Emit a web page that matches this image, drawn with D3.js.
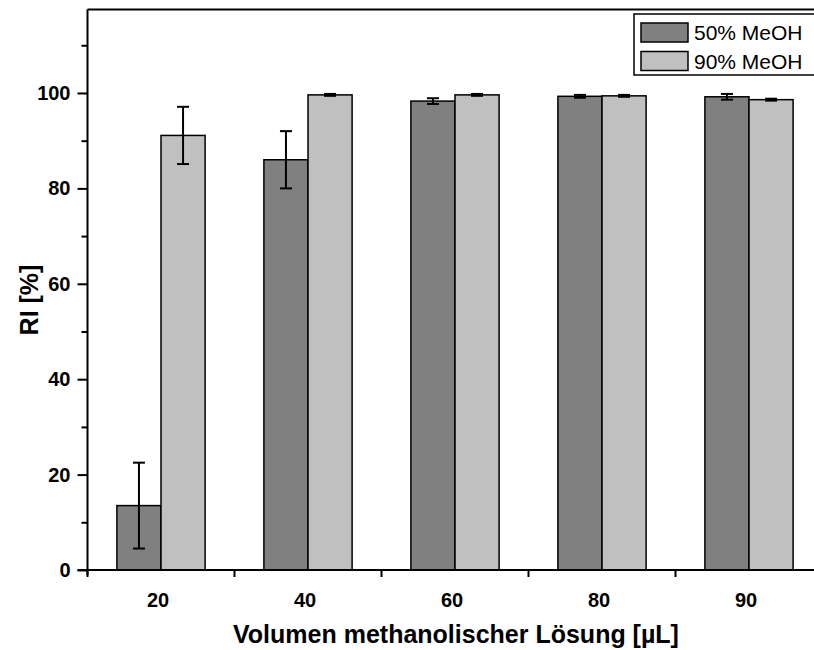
<!DOCTYPE html>
<html>
<head>
<meta charset="utf-8">
<script src="https://cdn.jsdelivr.net/npm/d3@7"></script>
<style>
  html, body { margin: 0; padding: 0; background: #fff; }
  svg { display: block; }
  text { font-family: "Liberation Sans", Arial, sans-serif; }
</style>
</head>
<body>
<svg id="chart" width="814" height="650"></svg>
<script>
// Volume of methanolic solution (µL)
const categories = ["20", "40", "60", "80", "90"];
const seriesNames = ["50% MeOH", "90% MeOH"];
// RI [%] means and standard deviations
const meoh50 = [13.5, 86.0, 98.3, 99.3, 99.2];
const meoh50Err = [9.0, 6.0, 0.6, 0.3, 0.6];
const meoh90 = [91.1, 99.6, 99.6, 99.4, 98.6];
const meoh90Err = [6.0, 0.2, 0.2, 0.2, 0.2];
const yTicks = [0, 20, 40, 60, 80, 100];
const yMinorTicks = [10, 30, 50, 70, 90, 110];

const seriesValues = [meoh50, meoh90];
const seriesErrors = [meoh50Err, meoh90Err];
const fills = ["#808080", "#c0c0c0"];
const fontFamily = "Liberation Sans, Arial, sans-serif";

const svg = d3.select("#chart");
const plotLeft = 87.5, plotRight = 822.5, plotTop = 9.5, plotBottom = 570;

const x = d3.scaleBand().domain(categories).range([plotLeft, plotRight]).padding(0);
const y = d3.scaleLinear().domain([0, 117.5]).range([plotBottom, plotTop]);
const barW = x.bandwidth() * 0.3;

// bars
seriesValues.forEach((vals, s) => {
  const g = svg.append("g");
  g.selectAll("rect").data(vals).join("rect")
    .attr("x", (d, i) => x(categories[i]) + x.bandwidth() / 2 + (s - 1) * barW)
    .attr("y", d => y(d))
    .attr("width", barW)
    .attr("height", d => y(0) - y(d))
    .attr("fill", fills[s])
    .attr("stroke", "#000")
    .attr("stroke-width", 1.5);
});

// error bars
seriesValues.forEach((vals, s) => {
  const errs = seriesErrors[s];
  const g = svg.append("g").attr("stroke", "#000").attr("stroke-width", 2);
  vals.forEach((v, i) => {
    const cx = x(categories[i]) + x.bandwidth() / 2 + (s - 0.5) * barW;
    const hi = y(v + errs[i]), lo = y(v - errs[i]);
    g.append("line").attr("x1", cx).attr("x2", cx).attr("y1", hi).attr("y2", lo);
    g.append("line").attr("x1", cx - 6).attr("x2", cx + 6).attr("y1", hi).attr("y2", hi);
    g.append("line").attr("x1", cx - 6).attr("x2", cx + 6).attr("y1", lo).attr("y2", lo);
  });
});

// frame: top line
svg.append("line").attr("x1", plotLeft).attr("x2", plotRight).attr("y1", plotTop).attr("y2", plotTop)
  .attr("stroke", "#000").attr("stroke-width", 2);

// y axis: major ticks with labels, minor ticks in between
const yAxis = svg.append("g").attr("transform", `translate(${plotLeft},0)`)
  .call(d3.axisLeft(y).tickValues(yTicks).tickSize(10).tickSizeOuter(0).tickPadding(7));
yAxis.select(".domain").remove();
yAxis.selectAll(".tick line").attr("stroke-width", 2);
yAxis.selectAll("text").attr("font-size", 20).attr("font-weight", "bold").attr("fill", "#000")
  .attr("font-family", fontFamily);
svg.append("g").attr("transform", `translate(${plotLeft},0)`)
  .call(d3.axisLeft(y).tickValues(yMinorTicks).tickSize(6).tickFormat(""))
  .call(g => g.select(".domain").remove())
  .selectAll(".tick line").attr("stroke-width", 2);
svg.append("line").attr("x1", plotLeft).attr("x2", plotLeft).attr("y1", plotTop).attr("y2", plotBottom + 5)
  .attr("stroke", "#000").attr("stroke-width", 2);

// x axis: ticks between groups, labels at group centres
svg.append("line").attr("x1", plotLeft - 10).attr("x2", plotRight).attr("y1", plotBottom).attr("y2", plotBottom)
  .attr("stroke", "#000").attr("stroke-width", 2);
const bounds = categories.map(c => x(c));
svg.append("g").selectAll("line").data(bounds).join("line")
  .attr("x1", d => d).attr("x2", d => d).attr("y1", plotBottom).attr("y2", plotBottom + 7)
  .attr("stroke", "#000").attr("stroke-width", 2);
svg.append("g").selectAll("text").data(categories).join("text")
  .attr("x", d => x(d) + x.bandwidth() / 2 - 3)
  .attr("y", plotBottom + 37)
  .attr("text-anchor", "middle")
  .attr("font-size", 20).attr("font-weight", "bold")
  .text(d => d);

// axis titles
svg.append("text")
  .attr("x", 456).attr("y", 643)
  .attr("text-anchor", "middle")
  .attr("font-size", 25).attr("font-weight", "bold")
  .text("Volumen methanolischer Lösung [µL]");
svg.append("text")
  .attr("transform", "translate(38,300) rotate(-90)")
  .attr("text-anchor", "middle")
  .attr("font-size", 25).attr("font-weight", "bold")
  .text("RI [%]");

// legend
const lg = svg.append("g").attr("transform", "translate(634,14)");
lg.append("rect").attr("x", 0).attr("y", 0).attr("width", 200).attr("height", 61)
  .attr("fill", "#fff").attr("stroke", "#000").attr("stroke-width", 1.5);
seriesNames.forEach((name, i) => {
  lg.append("rect").attr("x", 7).attr("y", 9 + i * 28.5).attr("width", 47).attr("height", 19)
    .attr("fill", fills[i]).attr("stroke", "#000").attr("stroke-width", 1.5);
  lg.append("text").attr("x", 60).attr("y", 26 + i * 28.5)
    .attr("font-size", 21).text(name);
});
</script>
</body>
</html>
